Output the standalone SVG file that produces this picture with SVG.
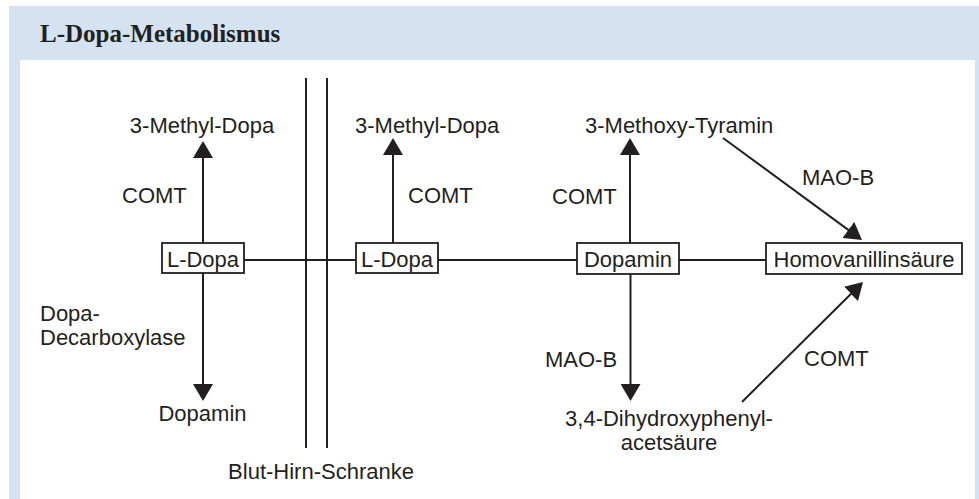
<svg xmlns="http://www.w3.org/2000/svg" width="979" height="499" viewBox="0 0 979 499">
<style>
.t{font-family:"Liberation Sans",Arial,sans-serif;font-size:22px;fill:#231f20}
.m{text-anchor:middle}
.ln{stroke:#231f20;stroke-width:2;fill:none}
.box{stroke:#231f20;stroke-width:1.8;fill:#fff}
.title{font-family:"Liberation Serif","Times New Roman",serif;font-weight:bold;font-size:25px;fill:#231f20}
</style>
<defs>
<marker id="ah" markerUnits="userSpaceOnUse" markerWidth="17" markerHeight="20" refX="13" refY="10" orient="auto" viewBox="0 0 17 20">
<path d="M0,0 L17,10 L0,20 z" fill="#231f20"/>
</marker>
</defs>
<rect x="9" y="6" width="970" height="493" fill="#d4e2f2"/>
<rect x="20" y="60" width="955" height="439" fill="#fff"/>
<text class="title" x="40" y="42">L-Dopa-Metabolismus</text>

<g id="connectors">
<line class="ln" x1="306" y1="78" x2="306" y2="448"/>
<line class="ln" x1="327" y1="78" x2="327" y2="448"/>
<line class="ln" x1="244" y1="260" x2="356" y2="260"/>
<line class="ln" x1="438" y1="260" x2="577" y2="260"/>
<line class="ln" x1="679" y1="260" x2="766" y2="260"/>
<line class="ln" x1="203" y1="243" x2="203" y2="145" marker-end="url(#ah)"/>
<line class="ln" x1="203" y1="273" x2="203" y2="397" marker-end="url(#ah)"/>
<line class="ln" x1="393" y1="243" x2="393" y2="142" marker-end="url(#ah)"/>
<line class="ln" x1="630" y1="243" x2="630" y2="142" marker-end="url(#ah)"/>
<line class="ln" x1="630.5" y1="274" x2="630.5" y2="397" marker-end="url(#ah)"/>
<line class="ln" x1="723" y1="138" x2="858.8" y2="237.6" marker-end="url(#ah)"/>
<line class="ln" x1="742" y1="402" x2="860.2" y2="284.8" marker-end="url(#ah)"/>
</g>

<g id="ldopa1"><rect class="box" x="162" y="243" width="82" height="30"/><text class="t m" x="203" y="267">L-Dopa</text></g>
<g id="ldopa2"><rect class="box" x="356" y="243" width="82" height="30"/><text class="t m" x="397" y="267">L-Dopa</text></g>
<g id="dopamin"><rect class="box" x="577" y="243" width="102" height="31"/><text class="t m" x="628" y="267">Dopamin</text></g>
<g id="hva"><rect class="box" x="766" y="243" width="196" height="31"/><text class="t m" x="864" y="267">Homovanillinsäure</text></g>

<g id="methyldopa1"><text class="t m" x="202" y="133">3-Methyl-Dopa</text></g>
<g id="methyldopa2"><text class="t" x="355" y="133">3-Methyl-Dopa</text></g>
<g id="methoxytyramin"><text class="t" x="585" y="133">3-Methoxy-Tyramin</text></g>
<g id="dopamin-peri"><text class="t m" x="202.5" y="421">Dopamin</text></g>
<g id="dopac"><text class="t m" x="669" y="426">3,4-Dihydroxyphenyl-</text><text class="t m" x="669" y="450">acetsäure</text></g>

<g id="labels">
<text class="t" x="122" y="203">COMT</text>
<text class="t" x="408" y="203">COMT</text>
<text class="t" x="552" y="204">COMT</text>
<text class="t" x="802" y="185">MAO-B</text>
<text class="t" x="545" y="367">MAO-B</text>
<text class="t" x="804" y="366">COMT</text>
<text class="t" x="40" y="321">Dopa-</text>
<text class="t" x="40" y="345">Decarboxylase</text>
<text class="t m" x="321" y="479">Blut-Hirn-Schranke</text>
</g>
</svg>
